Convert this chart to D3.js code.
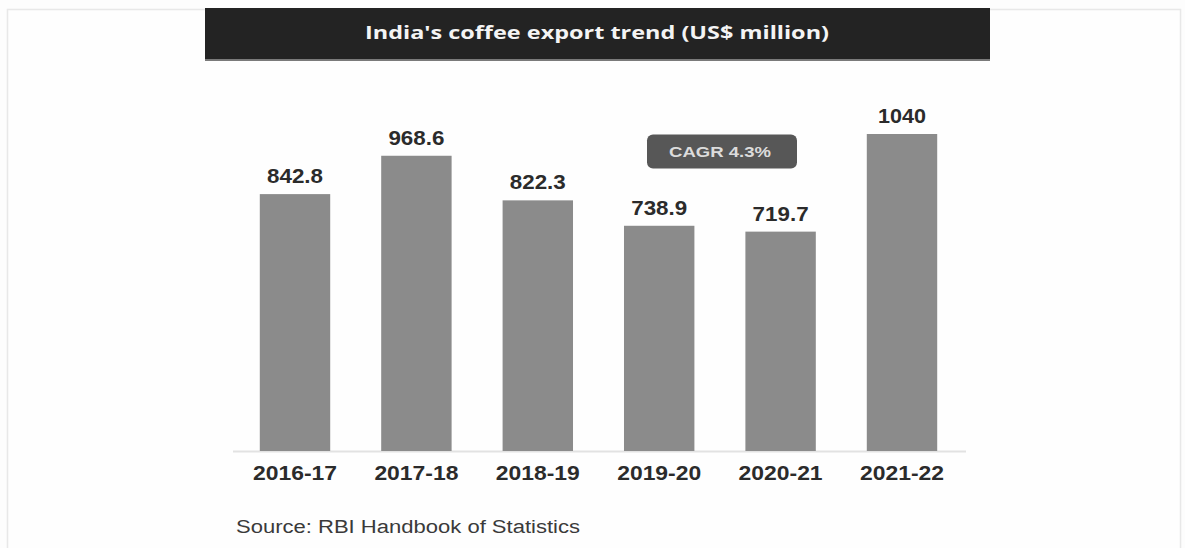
<!DOCTYPE html>
<html>
<head>
<meta charset="utf-8">
<script src="https://cdn.jsdelivr.net/npm/d3@7"></script>
<style>
  html, body { margin: 0; padding: 0; background: #fdfdfd; }
  svg { display: block; }
</style>
</head>
<body>
<svg id="chart" width="1185" height="548"></svg>
<script>
// India's coffee exports, US$ million
const years = ["2016-17", "2017-18", "2018-19", "2019-20", "2020-21", "2021-22"];
const exportsUSD = [842.8, 968.6, 822.3, 738.9, 719.7, 1040];
const valueLabels = ["842.8", "968.6", "822.3", "738.9", "719.7", "1040"];
const titleText = "India's coffee export trend (US$ million)";
const cagrText = "CAGR 4.3%";
const sourceText = "Source: RBI Handbook of Statistics";

const svg = d3.select("#chart");
const W = 1185, H = 548;

// page frame
svg.append("rect").attr("x", 0).attr("y", 0).attr("width", W).attr("height", H).attr("fill", "#fdfdfd");
svg.append("rect")
  .attr("x", 7.5).attr("y", 9.5).attr("width", 1173).attr("height", 560)
  .attr("fill", "#fefefe").attr("stroke", "#e8e8e8").attr("stroke-width", 1.5);

// title banner
svg.append("rect").attr("x", 205).attr("y", 8).attr("width", 785).attr("height", 53).attr("fill", "#7a7a7a");
svg.append("rect").attr("x", 205).attr("y", 8).attr("width", 785).attr("height", 51).attr("fill", "#232323");
svg.append("text")
  .attr("x", 597).attr("y", 39)
  .attr("text-anchor", "middle")
  .attr("font-family", "'Open Sans', sans-serif")
  .attr("font-weight", 700).attr("font-size", 18)
  .attr("textLength", 464).attr("lengthAdjust", "spacingAndGlyphs")
  .attr("fill", "#f4f4f4")
  .text(titleText);

// scales
const x = d3.scaleBand().domain(years).range([234.3, 962.7]).paddingInner(0.42).paddingOuter(0.21);
const y = d3.scaleLinear().domain([0, 1040]).range([451, 134]);

// baseline
svg.append("line")
  .attr("x1", 233).attr("x2", 966)
  .attr("y1", y(0) + 0.5).attr("y2", y(0) + 0.5)
  .attr("stroke", "#e2e2e2").attr("stroke-width", 2);

// bars
svg.append("g").selectAll("rect")
  .data(exportsUSD)
  .join("rect")
  .attr("x", (d, i) => x(years[i]))
  .attr("width", x.bandwidth())
  .attr("y", d => y(d))
  .attr("height", d => y(0) - y(d))
  .attr("fill", "#8b8b8b");

// value labels
svg.append("g").selectAll("text")
  .data(exportsUSD)
  .join("text")
  .attr("x", (d, i) => x(years[i]) + x.bandwidth() / 2)
  .attr("y", d => y(d) - 11)
  .attr("text-anchor", "middle")
  .attr("font-family", "'Liberation Sans', Arial, sans-serif")
  .attr("font-weight", 700).attr("font-size", 20)
  .attr("textLength", (d, i) => valueLabels[i].length === 4 ? 48 : 56)
  .attr("lengthAdjust", "spacingAndGlyphs")
  .attr("fill", "#2b2b2b")
  .text((d, i) => valueLabels[i]);

// category axis labels
svg.append("g").selectAll("text")
  .data(years)
  .join("text")
  .attr("x", d => x(d) + x.bandwidth() / 2)
  .attr("y", 480)
  .attr("text-anchor", "middle")
  .attr("font-family", "'Liberation Sans', Arial, sans-serif")
  .attr("font-weight", 700).attr("font-size", 20)
  .attr("textLength", 84).attr("lengthAdjust", "spacingAndGlyphs")
  .attr("fill", "#2b2b2b")
  .text(d => d);

// CAGR badge
svg.append("rect")
  .attr("x", 647).attr("y", 134.5).attr("width", 150).attr("height", 34)
  .attr("rx", 6).attr("ry", 6)
  .attr("fill", "#575757");
svg.append("text")
  .attr("x", 720).attr("y", 157)
  .attr("text-anchor", "middle")
  .attr("font-family", "'Liberation Sans', Arial, sans-serif")
  .attr("font-weight", 700).attr("font-size", 14)
  .attr("textLength", 102).attr("lengthAdjust", "spacingAndGlyphs")
  .attr("fill", "#dcdcdc")
  .text(cagrText);

// source note
svg.append("text")
  .attr("x", 236).attr("y", 533)
  .attr("font-family", "'Liberation Sans', Arial, sans-serif")
  .attr("font-size", 18)
  .attr("textLength", 344).attr("lengthAdjust", "spacingAndGlyphs")
  .attr("fill", "#3a3a3a")
  .text(sourceText);
</script>
</body>
</html>
